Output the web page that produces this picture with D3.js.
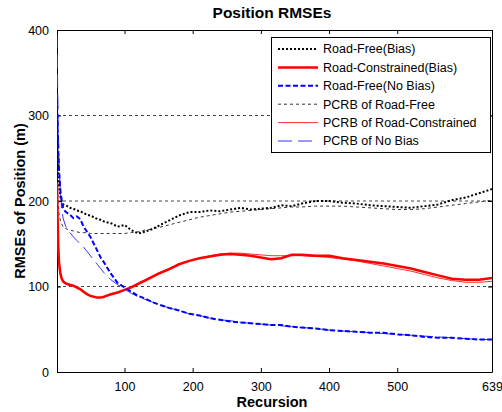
<!DOCTYPE html>
<html>
<head>
<meta charset="utf-8">
<script src="https://d3js.org/d3.v7.min.js"></script>
<style>
  body { margin: 0; background: #fff; }
  svg { font-family: "Liberation Sans", Arial, sans-serif; }
</style>
</head>
<body>
<svg id="chart"></svg>
<script>
'use strict'

const width = 502,
      height = 412

// recursion steps where values were read
const recursion = [1,2,3,4,6,8,10,13,16,20,25,30,35,40,45,50,55,60,65,70,80,90,100,110,120,130,140,150,165,180,195,210,225,240,255,270,285,300,315,330,345,360,380,400,420,440,460,480,500,520,540,560,580,600,620,639]

const roadFreeBias = [285,255,232,218,205,199,196,195,194,192,191,189,188,186,184,183,181,179,178,176,174,170,172,166,162,164,167,171,177,183,187,187,189,188,190,192,190,191,192,195,194,197,200,200,198,197,195,194,193,192,194,196,201,204,209,214]
const roadConstrainedBias = [222,175,145,128,115,109,106,104,103,102,101,99,97,94,91,89,88,87,87,88,91,93,96,99,103,107,111,115,120,126,130,133,135,137,138,137,136,134,132,133,137,137,136,136,133,131,129,127,124,121,117,113,109,108,108,110]
const roadFreeNoBias = [320,285,255,235,212,200,192,188,186,184,180,182,179,170,164,158,150,142,134,128,115,104,99,94,89,86,82,79,75,72,68,66,63,61,59,58,57,56,55,55,53,52,51,49,48,47,46,46,44,43,41,40,40,39,38,38]
const pcrbRoadFree = [250,215,195,185,177,173,170,168,167,166,165,164,163,163,163,162,162,162,162,162,162,162,162,163,164,166,167,169,172,175,178,181,183,185,187,188,189,190,191,192,193,193,194,194,194,193,192,191,190,190,191,193,195,197,199,201]
const pcrbRoadConstrained = [200,160,138,124,113,108,105,103,102,101,100,98,96,93,91,89,88,87,87,88,90,93,96,100,104,108,112,116,121,126,130,133,136,138,139,139,138,137,136,136,136,136,135,134,132,130,127,124,121,118,114,110,107,105,105,106]
const pcrbNoBias = [395,330,280,245,210,190,180,172,167,163,158,154,150,146,141,136,131,126,121,116,108,102,97,92,88,85,82,79,75,72,68,66,63,61,60,58,57,56,55,54,53,52,51,49,48,47,46,45,44,43,42,41,40,39,38,38]

const xTicks = [100,200,300,400,500,639]
const yTicks = [0,100,200,300,400]
const gridValues = [100,200,300]

const series = [
  { name: 'Road-Free(Bias)', values: roadFreeBias, color: '#000', width: 2, dash: '2,2' },
  { name: 'Road-Constrained(Bias)', values: roadConstrainedBias, color: '#ff0000', width: 2.5, dash: null },
  { name: 'Road-Free(No Bias)', values: roadFreeNoBias, color: '#0000ff', width: 2, dash: '5,2.5' },
  { name: 'PCRB of Road-Free', values: pcrbRoadFree, color: '#333', width: 1, dash: '3,3' },
  { name: 'PCRB of Road-Constrained', values: pcrbRoadConstrained, color: '#ff3030', width: 1, dash: null },
  { name: 'PCRB of No Bias', values: pcrbNoBias, color: '#3333ff', width: 1, dash: '14,6' }
]

const margin = { left: 57, right: 10, top: 30, bottom: 40 }

const x = d3.scaleLinear().domain([1, 639]).range([margin.left, width - margin.right])
const y = d3.scaleLinear().domain([0, 400]).range([height - margin.bottom, margin.top])

const svg = d3.select('#chart')
  .attr('width', width)
  .attr('height', height)

// grid lines
svg.append('g')
  .selectAll('line')
  .data(gridValues)
  .enter().append('line')
    .attr('x1', x(1)).attr('x2', x(639))
    .attr('y1', d => y(d)).attr('y2', d => y(d))
    .attr('stroke', '#444')
    .attr('stroke-width', 1)
    .attr('stroke-dasharray', '3,3')

// axes, ticks pointing inward
const axisBottom = d3.axisBottom(x).tickValues(xTicks).tickSizeInner(-4).tickSizeOuter(0).tickPadding(10)
const axisTop = d3.axisTop(x).tickValues(xTicks).tickSizeInner(-4).tickSizeOuter(0).tickFormat('')
const axisLeft = d3.axisLeft(y).tickValues(yTicks).tickSizeInner(-4).tickSizeOuter(0).tickPadding(8)
const axisRight = d3.axisRight(y).tickValues(yTicks).tickSizeInner(-4).tickSizeOuter(0).tickFormat('')

svg.append('g').attr('transform', `translate(0,${y(0)})`).call(axisBottom)
svg.append('g').attr('transform', `translate(0,${y(400)})`).call(axisTop)
svg.append('g').attr('transform', `translate(${x(1)},0)`).call(axisLeft)
svg.append('g').attr('transform', `translate(${x(639)},0)`).call(axisRight)

svg.selectAll('.domain').attr('stroke', '#000')
svg.selectAll('.tick line').attr('stroke', '#000')
svg.selectAll('.tick text').attr('font-size', 12.5).attr('fill', '#000')

// lines, clipped to plot area
svg.append('clipPath').attr('id', 'clip')
  .append('rect')
    .attr('x', x(1)).attr('y', y(400))
    .attr('width', x(639) - x(1)).attr('height', y(0) - y(400))

const line = values => d3.line()
  .x((d, i) => x(recursion[i]))
  .y(d => y(d))(values)

const drawOrder = [3, 4, 5, 0, 1, 2]
svg.append('g').attr('clip-path', 'url(#clip)')
  .selectAll('path')
  .data(drawOrder.map(i => series[i]))
  .enter().append('path')
    .attr('d', d => line(d.values))
    .attr('fill', 'none')
    .attr('stroke', d => d.color)
    .attr('stroke-width', d => d.width)
    .attr('stroke-dasharray', d => d.dash)

// legend
const legend = svg.append('g')
legend.append('rect')
  .attr('x', 271.5).attr('y', 37.5)
  .attr('width', 219).attr('height', 115)
  .attr('fill', '#fff')
  .attr('stroke', '#000')
  .attr('stroke-width', 1)

const items = legend.selectAll('.item')
  .data(series)
  .enter().append('g')
    .attr('class', 'item')
    .attr('transform', (d, i) => `translate(0,${49 + i * 18.4})`)

items.append('line')
  .attr('x1', 278).attr('x2', 318)
  .attr('stroke', d => d.color)
  .attr('stroke-width', d => d.width)
  .attr('stroke-dasharray', d => d.dash)

items.append('text')
  .attr('x', 323)
  .attr('dy', '0.35em')
  .attr('font-size', 12.5)
  .text(d => d.name)

// titles
svg.append('text')
  .attr('x', 272).attr('y', 18)
  .attr('text-anchor', 'middle')
  .attr('font-size', 15.5)
  .attr('font-weight', 'bold')
  .text('Position RMSEs')

svg.append('text')
  .attr('x', 272).attr('y', 407)
  .attr('text-anchor', 'middle')
  .attr('font-size', 14.5)
  .attr('font-weight', 'bold')
  .text('Recursion')

svg.append('text')
  .attr('transform', 'translate(25,201) rotate(-90)')
  .attr('text-anchor', 'middle')
  .attr('font-size', 14.5)
  .attr('font-weight', 'bold')
  .text('RMSEs of Position (m)')
</script>
</body>
</html>
